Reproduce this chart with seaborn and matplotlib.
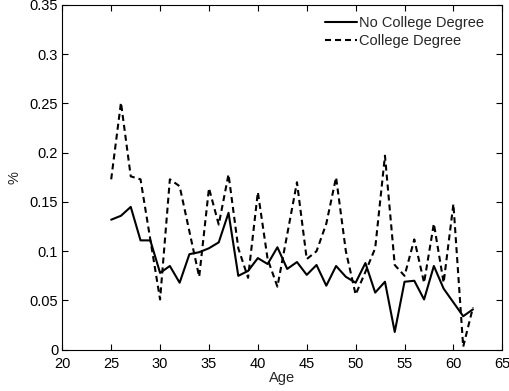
import numpy as np
import pandas as pd
import seaborn as sns
import matplotlib
matplotlib.use("Agg")
import matplotlib.pyplot as plt

ages = list(range(25, 63))

no_college = [0.132, 0.136, 0.145, 0.111, 0.111, 0.078, 0.085, 0.068, 0.097, 0.099,
              0.103, 0.109, 0.139, 0.075, 0.080, 0.093, 0.087, 0.104, 0.082, 0.089,
              0.076, 0.086, 0.065, 0.085, 0.074, 0.068, 0.088, 0.058, 0.069, 0.018,
              0.069, 0.070, 0.051, 0.085, 0.062, 0.048, 0.034, 0.041]

college = [0.173, 0.251, 0.176, 0.173, 0.112, 0.051, 0.173, 0.166, 0.120, 0.074,
           0.164, 0.127, 0.178, 0.103, 0.073, 0.160, 0.092, 0.064, 0.117, 0.170,
           0.092, 0.100, 0.128, 0.175, 0.100, 0.056, 0.079, 0.103, 0.197, 0.086,
           0.075, 0.112, 0.068, 0.128, 0.068, 0.148, 0.003, 0.043]

series_names = ["No College Degree", "College Degree"]

df = pd.DataFrame({
    "Age": ages * 2,
    "value": no_college + college,
    "group": [series_names[0]] * len(ages) + [series_names[1]] * len(ages),
})

sns.set_style("white")
plt.rcParams["font.family"] = ["Liberation Sans", "DejaVu Sans"]

FS = 10.5

fig = plt.figure(figsize=(5.09, 3.91), dpi=100)
ax = fig.add_axes([62.3 / 509, 1 - 349.7 / 391, 440 / 509, 344.7 / 391])

sns.lineplot(data=df, x="Age", y="value", hue="group", style="group",
             palette=["black", "black"], dashes=[(None, None), (2.9, 1.9)],
             linewidth=1.5, ax=ax, legend=True)

ax.set_xlim(20, 65)
ax.set_ylim(0, 0.35)
ax.set_xticks(range(20, 66, 5))
ax.set_yticks([0, 0.05, 0.1, 0.15, 0.2, 0.25, 0.3, 0.35])
ax.set_yticklabels(["0", "0.05", "0.1", "0.15", "0.2", "0.25", "0.3", "0.35"])
ax.set_xlabel("Age", fontsize=FS, labelpad=0)
ax.set_ylabel("%", fontsize=FS, labelpad=6)
ax.tick_params(direction="in", length=4, width=0.8, labelsize=FS,
               top=True, right=True, bottom=True, left=True, colors="black")
ax.tick_params(axis="x", pad=5)
ax.tick_params(axis="y", pad=3)
for s in ax.spines.values():
    s.set_color("black")
    s.set_linewidth(0.8)

ax.legend(frameon=False, loc="upper right", bbox_to_anchor=(0.958, 0.968),
          fontsize=FS, handlelength=2.2, handletextpad=0.1, labelspacing=0.25,
          borderaxespad=0, borderpad=0)

fig.savefig("out.png", dpi=100, facecolor="white")
